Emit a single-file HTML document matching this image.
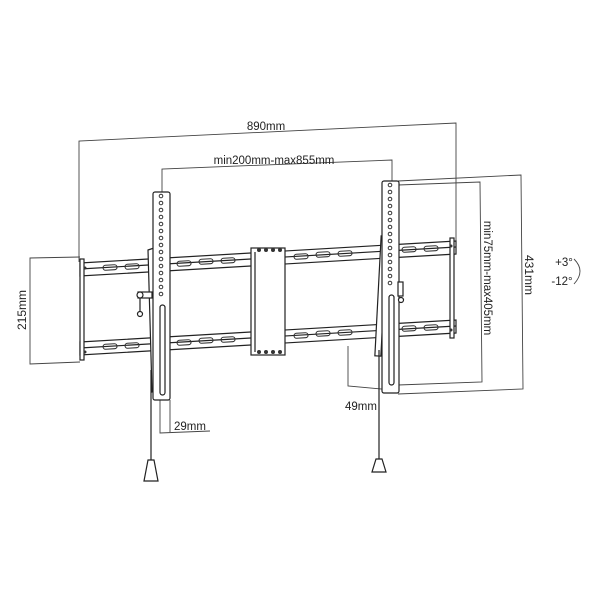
<!DOCTYPE html>
<html><head><meta charset="utf-8"><style>body{margin:0;background:#fff}svg{display:block}text{font-family:"Liberation Sans",sans-serif;fill:#222}</style></head><body>
<svg width="600" height="600" viewBox="0 0 600 600" xmlns="http://www.w3.org/2000/svg">
<g stroke="#444" stroke-width="0.9" fill="none">
<polyline points="79,262 79,141 456,123 456,242"/>
<polyline points="162,192 162,169 392,160 392,182"/>
<polyline points="398,181 521,175 523,389 398,394"/>
<polyline points="398,185 480,182 482,382 398,385"/>
<polyline points="80,257 30,258 30,364 80,362"/>
<polyline points="348,346 348,386 392,390 392,370"/>
<polyline points="160,400 160,433 210,431"/>
<line x1="170" y1="400" x2="170" y2="432"/>
<path d="M574,259 Q586,271 574,284"/>
</g>
<g stroke="#222" stroke-width="1.2" fill="#fff">
<polygon points="80,263 456,241 456,254 80,276"/>
<polygon points="80,342 456,320 456,333 80,355"/>
<line x1="80" y1="269" x2="456" y2="247"/>
<line x1="80" y1="348" x2="456" y2="326"/>
<rect x="80" y="259" width="4" height="101"/>
<rect x="450" y="238" width="4" height="100"/>
<rect x="251" y="248" width="34" height="107"/>
<line x1="255" y1="252" x2="255" y2="352"/>
</g>
<g fill="none" stroke="#333" stroke-width="1.1">
<rect x="103" y="265" width="14" height="5" rx="2.5" transform="rotate(-3.3 110 267)"/>
<rect x="125" y="264" width="14" height="5" rx="2.5" transform="rotate(-3.3 132 266)"/>
<rect x="177" y="261" width="14" height="5" rx="2.5" transform="rotate(-3.3 184 263)"/>
<rect x="199" y="259" width="14" height="5" rx="2.5" transform="rotate(-3.3 206 261)"/>
<rect x="221" y="258" width="14" height="5" rx="2.5" transform="rotate(-3.3 228 260)"/>
<rect x="294" y="254" width="14" height="5" rx="2.5" transform="rotate(-3.3 301 256)"/>
<rect x="316" y="252" width="14" height="5" rx="2.5" transform="rotate(-3.3 323 254)"/>
<rect x="338" y="251" width="14" height="5" rx="2.5" transform="rotate(-3.3 345 253)"/>
<rect x="402" y="247" width="14" height="5" rx="2.5" transform="rotate(-3.3 409 249)"/>
<rect x="424" y="246" width="14" height="5" rx="2.5" transform="rotate(-3.3 431 248)"/>
<rect x="103" y="344" width="14" height="5" rx="2.5" transform="rotate(-3.3 110 346)"/>
<rect x="125" y="343" width="14" height="5" rx="2.5" transform="rotate(-3.3 132 345)"/>
<rect x="177" y="340" width="14" height="5" rx="2.5" transform="rotate(-3.3 184 342)"/>
<rect x="199" y="338" width="14" height="5" rx="2.5" transform="rotate(-3.3 206 340)"/>
<rect x="221" y="337" width="14" height="5" rx="2.5" transform="rotate(-3.3 228 339)"/>
<rect x="294" y="333" width="14" height="5" rx="2.5" transform="rotate(-3.3 301 335)"/>
<rect x="316" y="331" width="14" height="5" rx="2.5" transform="rotate(-3.3 323 333)"/>
<rect x="338" y="330" width="14" height="5" rx="2.5" transform="rotate(-3.3 345 332)"/>
<rect x="402" y="326" width="14" height="5" rx="2.5" transform="rotate(-3.3 409 328)"/>
<rect x="424" y="325" width="14" height="5" rx="2.5" transform="rotate(-3.3 431 327)"/>
</g>
<g fill="#333"><circle cx="259" cy="250" r="2"/><circle cx="266" cy="250" r="2"/><circle cx="273" cy="250" r="2"/><circle cx="280" cy="250" r="2"/>
<circle cx="259" cy="352" r="2"/><circle cx="266" cy="352" r="2"/><circle cx="273" cy="352" r="2"/><circle cx="280" cy="352" r="2"/>
<circle cx="85" cy="268" r="1.5"/><circle cx="85" cy="352" r="1.5"/><circle cx="451" cy="246" r="1.5"/><circle cx="451" cy="330" r="1.5"/></g>
<g stroke="#222" stroke-width="1.2" fill="#fff">
<path d="M148,250 L154,248 L160,390 L152,392 Z"/>
<rect x="153" y="192" width="17" height="208" rx="2"/>
<rect x="160" y="305" width="5" height="90" rx="2.5"/>
<rect x="138" y="292" width="14" height="6"/>
<circle cx="140" cy="295" r="3"/><line x1="140" y1="298" x2="140" y2="312"/><circle cx="140" cy="314" r="2.5"/>
<rect x="378" y="236" width="6" height="120" transform="rotate(3 381 296)"/>
<rect x="382" y="181" width="17" height="212" rx="2"/>
<rect x="389" y="295" width="5" height="90" rx="2.5"/>
<rect x="398" y="282" width="5" height="14"/><circle cx="401" cy="300" r="2.5"/>
</g>
<g fill="none" stroke="#333" stroke-width="1">
<circle cx="161" cy="196" r="1.8"/><circle cx="161" cy="203" r="1.8"/><circle cx="161" cy="210" r="1.8"/><circle cx="161" cy="217" r="1.8"/><circle cx="161" cy="224" r="1.8"/><circle cx="161" cy="231" r="1.8"/><circle cx="161" cy="238" r="1.8"/><circle cx="161" cy="245" r="1.8"/><circle cx="161" cy="252" r="1.8"/><circle cx="161" cy="259" r="1.8"/><circle cx="161" cy="266" r="1.8"/><circle cx="161" cy="273" r="1.8"/><circle cx="161" cy="280" r="1.8"/><circle cx="161" cy="287" r="1.8"/><circle cx="161" cy="294" r="1.8"/>
<circle cx="390" cy="185" r="1.8"/><circle cx="390" cy="192" r="1.8"/><circle cx="390" cy="199" r="1.8"/><circle cx="390" cy="206" r="1.8"/><circle cx="390" cy="213" r="1.8"/><circle cx="390" cy="220" r="1.8"/><circle cx="390" cy="227" r="1.8"/><circle cx="390" cy="234" r="1.8"/><circle cx="390" cy="241" r="1.8"/><circle cx="390" cy="248" r="1.8"/><circle cx="390" cy="255" r="1.8"/><circle cx="390" cy="262" r="1.8"/><circle cx="390" cy="269" r="1.8"/><circle cx="390" cy="276" r="1.8"/><circle cx="390" cy="283" r="1.8"/>
</g>
<g stroke="#222" stroke-width="1.2" fill="#fff">
<line x1="151" y1="370" x2="151" y2="460"/>
<polygon points="148,460 154,460 158,481 144,481"/>
<line x1="379" y1="350" x2="379" y2="459"/>
<polygon points="376,459 382,459 386,472 372,472"/>
</g>
<text x="266" y="130" font-size="11.5" text-anchor="middle">890mm</text>
<text x="274" y="164" font-size="11.5" text-anchor="middle">min200mm-max855mm</text>
<text x="0" y="0" font-size="12" text-anchor="middle" transform="translate(26,310) rotate(-90)">215mm</text>
<text x="0" y="0" font-size="11.5" text-anchor="middle" transform="translate(484,278) rotate(90)">min75mm-max405mm</text>
<text x="0" y="0" font-size="12" text-anchor="middle" transform="translate(525,275) rotate(90)">431mm</text>
<text x="564" y="266" font-size="11.5" text-anchor="middle">+3°</text>
<text x="562" y="285" font-size="11.5" text-anchor="middle">-12°</text>
<text x="190" y="430" font-size="11.5" text-anchor="middle">29mm</text>
<text x="361" y="410" font-size="11.5" text-anchor="middle">49mm</text>
</svg>
</body></html>
